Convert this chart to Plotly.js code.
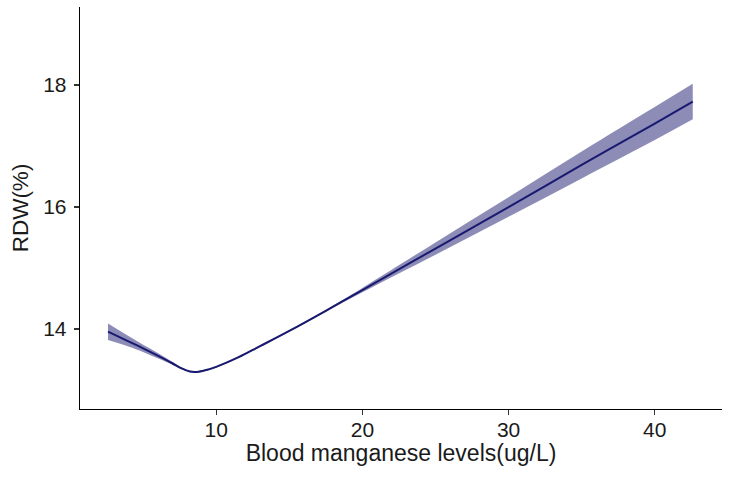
<!DOCTYPE html>
<html>
<head>
<meta charset="utf-8">
<script src="https://cdn.plot.ly/plotly-3.0.1.min.js"></script>
<style>
  html, body { margin: 0; padding: 0; background: #fff; }
  #chart { width: 733px; height: 480px; }
</style>
</head>
<body>
<div id="chart"></div>
<script>
// Restricted cubic spline fit of RDW against blood manganese, with 95% CI
const manganese = [2.6, 4, 5, 6, 7, 7.6, 8.2, 8.8, 9.5, 10, 11.5, 13, 15, 17.5, 20, 25, 30, 35, 40, 42.6];
const rdwFit    = [13.96, 13.80, 13.685, 13.565, 13.44, 13.36, 13.305, 13.302, 13.34, 13.38, 13.535, 13.72, 13.97, 14.30, 14.64, 15.32, 16.00, 16.69, 17.37, 17.73];
const rdwLower  = [13.82, 13.715, 13.625, 13.52, 13.415, 13.345, 13.293, 13.29, 13.328, 13.368, 13.523, 13.708, 13.958, 14.285, 14.605, 15.22, 15.84, 16.47, 17.10, 17.44];
const rdwUpper  = [14.09, 13.885, 13.745, 13.61, 13.465, 13.375, 13.317, 13.314, 13.352, 13.392, 13.547, 13.732, 13.982, 14.315, 14.675, 15.42, 16.16, 16.91, 17.64, 18.02];

const xTicks = [10, 20, 30, 40];
const yTicks = [14, 16, 18];

const navy = '#191970';
const band = 'rgba(25,25,112,0.5)';

const traces = [
  {
    x: manganese, y: rdwLower, type: 'scatter', mode: 'lines',
    line: { width: 0, color: band, shape: 'spline' },
    hoverinfo: 'skip', showlegend: false
  },
  {
    x: manganese, y: rdwUpper, type: 'scatter', mode: 'lines',
    line: { width: 0, color: band, shape: 'spline' },
    fill: 'tonexty', fillcolor: band,
    hoverinfo: 'skip', showlegend: false
  },
  {
    x: manganese, y: rdwFit, type: 'scatter', mode: 'lines',
    line: { width: 2, color: navy, shape: 'spline' },
    showlegend: false
  }
];

const fontFamily = 'Liberation Sans, Arial, sans-serif';
const tickFont = { family: fontFamily, size: 21, color: '#1a1a1a' };
const titleFont = { family: fontFamily, size: 23, color: '#1a1a1a' };

const layout = {
  width: 733, height: 480,
  margin: { l: 80, r: 11, t: 7, b: 71 },
  paper_bgcolor: '#fff', plot_bgcolor: '#fff',
  font: tickFont,
  xaxis: {
    range: [0.685, 44.6],
    tickvals: xTicks, ticktext: xTicks.map(String),
    showgrid: false, zeroline: false,
    showline: true, linecolor: '#000', linewidth: 1.3,
    ticks: 'outside', ticklen: 5, tickwidth: 1.3, tickcolor: '#333',
    ticklabelstandoff: -4,
    tickfont: tickFont,
    title: { text: 'Blood manganese levels(ug/L)', font: titleFont, standoff: 2 }
  },
  yaxis: {
    range: [12.69, 19.28],
    tickvals: yTicks, ticktext: yTicks.map(String),
    showgrid: false, zeroline: false,
    showline: true, linecolor: '#000', linewidth: 1.3,
    ticks: 'outside', ticklen: 5, tickwidth: 1.3, tickcolor: '#333',
    ticklabelstandoff: 3,
    tickfont: tickFont,
    title: { text: 'RDW(%)', font: { family: fontFamily, size: 22.5, color: '#1a1a1a' }, standoff: 8 }
  }
};

Plotly.newPlot('chart', traces, layout, { staticPlot: true, displayModeBar: false });
</script>
</body>
</html>
